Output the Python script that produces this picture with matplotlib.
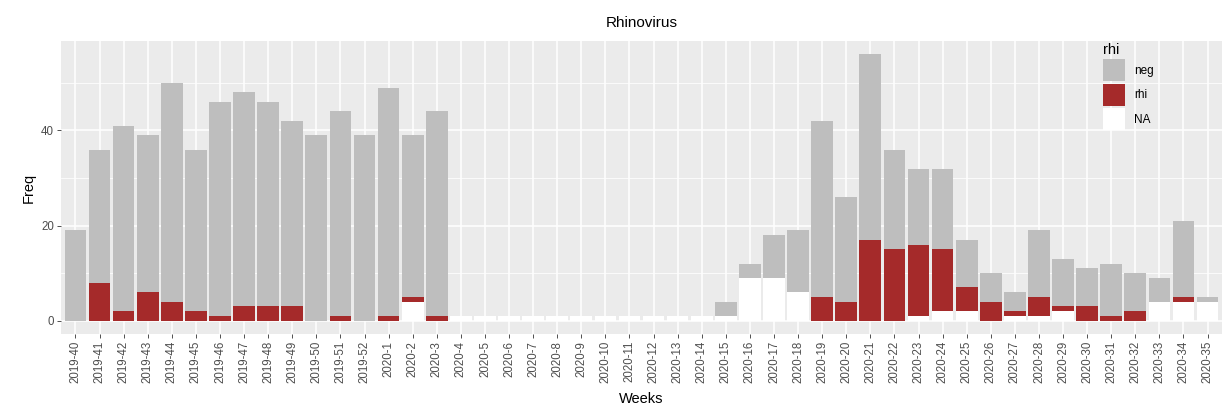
import numpy as np
import matplotlib
matplotlib.use('Agg')
from matplotlib import pyplot as plt
from matplotlib.patches import Patch
from matplotlib.ticker import FixedLocator

### data (counts per week)
weeks = ['2019-%d' % w for w in range(40, 53)] + ['2020-%d' % w for w in range(1, 36)]

na_cnt = [0, 0, 0, 0, 0, 0, 0, 0, 0, 0, 0, 0, 0,
          0, 4, 0,
          1, 1, 1, 1, 1, 1, 1, 1, 1, 1, 1,
          1, 9, 9, 6,
          0, 0, 0, 0, 1, 2, 2, 0, 1, 1, 2, 0, 0, 0, 4, 4, 4]
rhi_cnt = [0, 8, 2, 6, 4, 2, 1, 3, 3, 3, 0, 1, 0,
           1, 1, 1,
           0, 0, 0, 0, 0, 0, 0, 0, 0, 0, 0,
           0, 0, 0, 0,
           5, 4, 17, 15, 15, 13, 5, 4, 1, 4, 1, 3, 1, 2, 0, 1, 0]
neg_cnt = [19, 28, 39, 33, 46, 34, 45, 45, 43, 39, 39, 43, 39,
           48, 34, 43,
           0, 0, 0, 0, 0, 0, 0, 0, 0, 0, 0,
           3, 3, 9, 13,
           37, 22, 39, 21, 16, 17, 10, 6, 4, 14, 10, 8, 11, 8, 5, 16, 1]

col_neg = '#BEBEBE'
col_rhi = '#A52A2A'
col_na = '#FFFFFF'

plt.rcParams['font.family'] = ['Liberation Sans', 'DejaVu Sans']

fig = plt.figure(figsize=(12.3, 4.11), dpi=100)
ax = fig.add_axes([0.0496, 0.1873, 0.9439, 0.7127])

x = np.arange(len(weeks))
na = np.array(na_cnt)
rhi = np.array(rhi_cnt)
neg = np.array(neg_cnt)

# stacked like ggplot: NA at the bottom, then rhi, then neg
ax.bar(x, na, width=0.9, color=col_na, zorder=3)
ax.bar(x, rhi, width=0.9, bottom=na, color=col_rhi, zorder=3)
ax.bar(x, neg, width=0.9, bottom=na + rhi, color=col_neg, zorder=3)

# ggplot2 grey theme
ax.set_facecolor('#EBEBEB')
for s in ax.spines.values():
    s.set_visible(False)
ax.set_xlim(-0.6, len(weeks) - 1 + 0.6)
ax.set_ylim(-2.8, 58.8)
ax.set_yticks([0, 20, 40])
ax.yaxis.set_minor_locator(FixedLocator([10, 30, 50]))
ax.set_xticks(x)
ax.set_xticklabels(weeks, rotation=90)
ax.grid(True, which='major', color='white', linewidth=1.1, zorder=0)
ax.grid(True, which='minor', axis='y', color='white', linewidth=0.55, zorder=0)
ax.set_axisbelow(True)
ax.tick_params(axis='both', which='major', length=3, width=0.6, color='#333333',
               labelcolor='#4D4D4D', labelsize=8.3, pad=2)
ax.tick_params(axis='both', which='minor', length=0)

ax.set_xlabel('Weeks', fontsize=10.5, color='black', labelpad=6)
ax.set_ylabel('Freq', fontsize=10.5, color='black', labelpad=4)
ax.set_title('Rhinovirus', fontsize=11, color='black', pad=10)

handles = [Patch(facecolor=col_neg, label='neg'),
           Patch(facecolor=col_rhi, label='rhi'),
           Patch(facecolor=col_na, label='NA')]
leg = ax.legend(handles=handles, title='rhi', loc='upper left',
                bbox_to_anchor=(0.888, 1.03), frameon=False, fontsize=8.5,
                title_fontsize=10.5, handlelength=1.9, handleheight=2.5,
                handletextpad=0.8, labelspacing=0.2, alignment='left')

fig.savefig('out.png', dpi=100)
